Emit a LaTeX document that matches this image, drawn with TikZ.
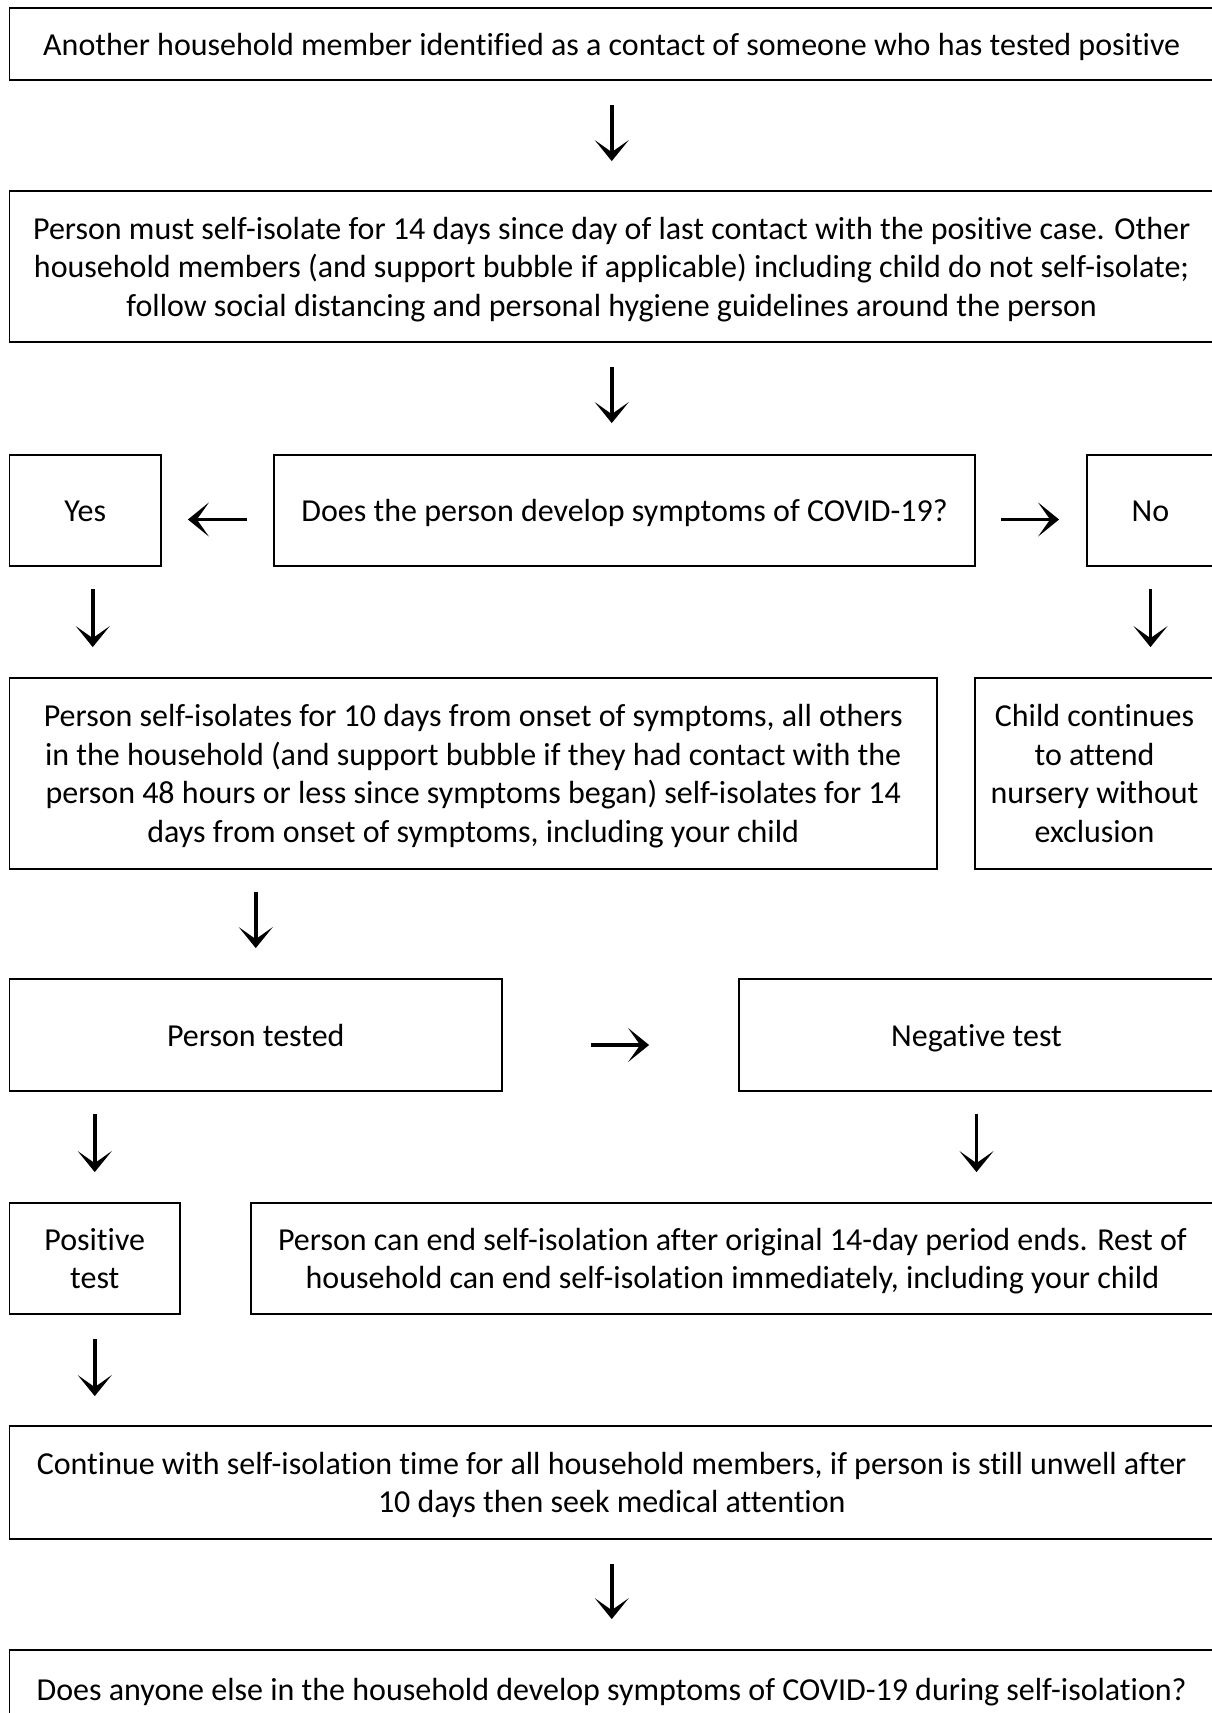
\documentclass[tikz,border=0pt]{standalone}
\usepackage{fontspec}
\setmainfont{Carlito}[Ligatures=NoCommon]
\usetikzlibrary{arrows.meta}
\newcommand{\bs}{\rule[-8pt]{0pt}{38pt}}
\tikzset{
  box/.style={draw, line width=1.8pt, align=center, inner sep=0pt, anchor=center,
    font=\fontsize{32}{38.5}\selectfont},
  arr/.style={line width=3.6pt, -{Stealth[length=21pt,width=34pt,inset=12pt]}},
}
\begin{document}
\begin{tikzpicture}[x=1pt,y=-1pt]
\useasboundingbox (0,0) rectangle (1212,1713);
\node[box, minimum width=1204.5pt, minimum height=72pt] (b1) at (611.75,44)
  {\bs Another household member identified as a contact of someone who has tested positive\bs};
\node[box, minimum width=1204.5pt, minimum height=151pt] (b2) at (611.75,266.5)
  {\bs Person must self-isolate for 14 days since day of last contact with the positive case. Other\\
   household members (and support bubble if applicable) including child do not self-isolate;\\
   follow social distancing and personal hygiene guidelines around the person\bs};
\node[box, minimum width=151.5pt, minimum height=111pt] (yes) at (85.25,510.5) {\bs Yes\bs};
\node[box, minimum width=701pt, minimum height=111pt] (dec) at (624.5,510.5)
  {\bs Does the person develop symptoms of COVID-19?\bs};
\node[box, minimum width=127pt, minimum height=111pt] (no) at (1150.5,510.5) {\bs No\bs};
\node[box, minimum width=927.5pt, minimum height=191pt] (b3) at (473.25,773.5)
  {\bs Person self-isolates for 10 days from onset of symptoms, all others\\
   in the household (and support bubble if they had contact with the\\
   person 48 hours or less since symptoms began) self-isolates for 14\\
   days from onset of symptoms, including your child\bs};
\node[box, minimum width=239pt, minimum height=191pt] (child) at (1094.5,773.5)
  {\bs Child continues\\ to attend\\ nursery without\\ exclusion\bs};
\node[box, minimum width=492.5pt, minimum height=112pt] (tested) at (255.75,1035) {\bs Person tested\bs};
\node[box, minimum width=475pt, minimum height=112pt] (neg) at (976.5,1035) {\bs Negative test\bs};
\node[box, minimum width=170.5pt, minimum height=111pt] (pos) at (94.75,1258.5) {\bs Positive\\ test\bs};
\node[box, minimum width=963pt, minimum height=111pt] (end) at (732.5,1258.5)
  {\bs Person can end self-isolation after original 14-day period ends. Rest of\\
   household can end self-isolation immediately, including your child\bs};
\node[box, minimum width=1204.5pt, minimum height=113pt] (cont) at (611.75,1482.5)
  {\bs Continue with self-isolation time for all household members, if person is still unwell after\\
   10 days then seek medical attention\bs};
\node[box, minimum width=1204.5pt, minimum height=78pt] (last) at (611.75,1689)
  {\bs Does anyone else in the household develop symptoms of COVID-19 during self-isolation?\bs};

\draw[arr, shorten <=24pt, shorten >=29pt] (b1.south) -- (b1.south |- b2.north);
\draw[arr, shorten <=24pt, shorten >=31pt] (b2.south) -- (b2.south |- dec.north);
\draw[arr, shorten <=26pt, shorten >=26pt] ([yshift=-9pt]dec.west) -- ([yshift=-9pt]yes.east);
\draw[arr, shorten <=25pt, shorten >=27pt] ([yshift=-9pt]dec.east) -- ([yshift=-9pt]no.west);
\draw[arr, shorten <=22pt, shorten >=30pt] ([xshift=7.5pt]yes.south) -- ([xshift=7.5pt]yes.south |- b3.north);
\draw[arr, shorten <=22pt, shorten >=30pt] (no.south) -- (no.south |- child.north);
\draw[arr, shorten <=22pt, shorten >=30pt] (b3.south -| tested.north) -- (tested.north);
\draw[arr, shorten <=88pt, shorten >=89pt] ([yshift=-10pt]tested.east) -- ([yshift=-10pt]neg.west);
\draw[arr, shorten <=22pt, shorten >=30pt] (tested.south -| pos.north) -- (pos.north);
\draw[arr, shorten <=22pt, shorten >=30pt] (neg.south) -- (neg.south |- end.north);
\draw[arr, shorten <=24pt, shorten >=29pt] (pos.south) -- (pos.south |- cont.north);
\draw[arr, shorten <=24pt, shorten >=30pt] (cont.south) -- (cont.south |- last.north);
\end{tikzpicture}
\end{document}
